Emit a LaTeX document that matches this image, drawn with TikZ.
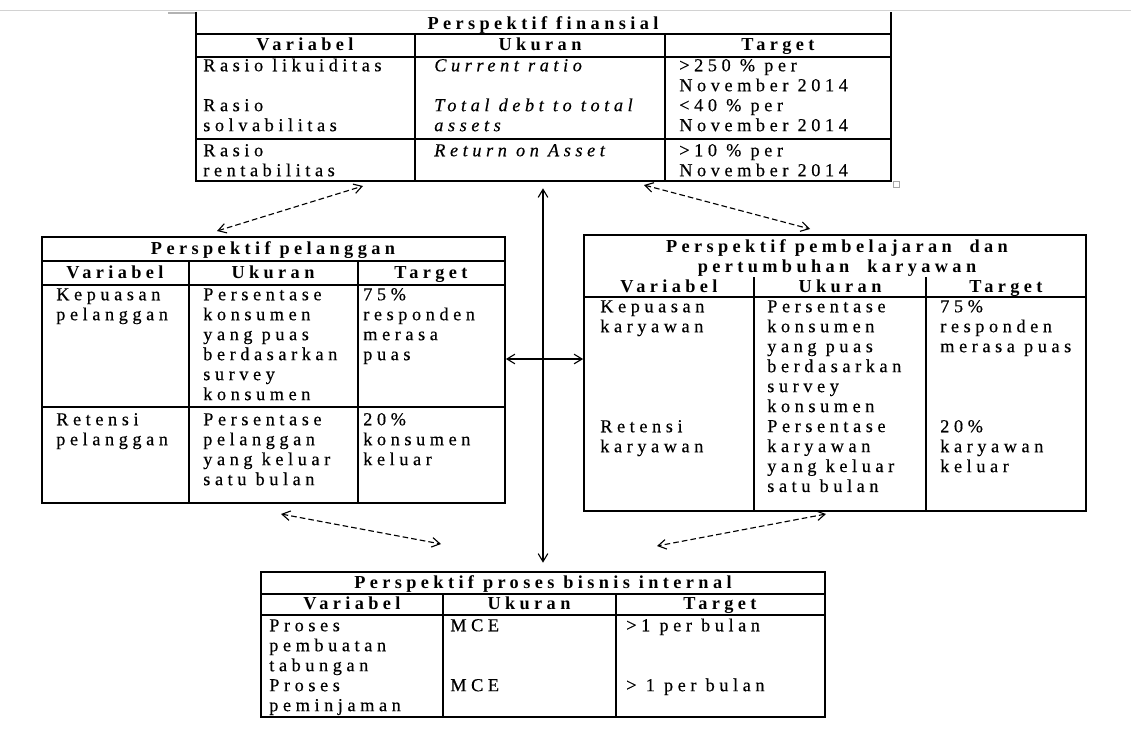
\documentclass[tikz,border=0pt]{standalone}
\usepackage{fontspec}
\setmainfont{Liberation Serif}
\newfontfamily\cellfont[LetterSpace=25, FakeBold=0.4]{Liberation Serif}
\newfontfamily\headfont[LetterSpace=24]{Liberation Serif}
\newcommand\celltext{\cellfont\fontsize{13}{14.2}\selectfont}
\newcommand\headtext{\headfont\bfseries\fontsize{13}{14.2}\selectfont}
\usetikzlibrary{arrows.meta,fit}

\tikzset{
  tblframe/.style={draw, line width=1.2pt, inner sep=0pt},
  rule/.style={line width=1.2pt},
  cell/.style={anchor=north west, inner sep=0pt, align=left, font=\celltext},
  hdr/.style={anchor=base, inner sep=0pt, font=\headtext},
  spine/.style={line width=0.8pt, {Straight Barb[length=2mm,width=2.4mm]}-{Straight Barb[length=2mm,width=2.4mm]}},
  link/.style={line width=0.8pt, dash pattern=on 4pt off 2.2pt, {Straight Barb[length=2mm,width=2.4mm]}-{Straight Barb[length=2mm,width=2.4mm]}}
}

\begin{document}
\begin{tikzpicture}[x=0.025cm, y=-0.025cm]
	\useasboundingbox (0,0) rectangle (1131,731);
	\draw[gray!35, line width=0.7pt] (0,10) -- (1131,10);
	\draw[gray!60, line width=1pt] (168,13) -- (195,13);
	\draw[gray!70, line width=0.5pt] (893,181) rectangle (899,187);

	\node[fit={(196,12) (891,181)}, inner sep=0pt] (fin) {};
	\draw[rule] (fin.north west) -- (fin.south west) -- (fin.south east) -- (fin.north east);
	\draw[rule] (196,34) -- (891,34);
	\draw[rule] (196,57) -- (891,57);
	\draw[rule] (196,139) -- (891,139);
	\draw[rule] (415,34) -- (415,181);
	\draw[rule] (665,34) -- (665,181);
	\node[hdr] (finT) at (543,29) {Perspektif finansial};
	\node[hdr] (finV) at (305,50) {Variabel};
	\node[hdr] (finU) at (540,50) {Ukuran};
	\node[hdr] (finG) at (778,50) {Target};
	\node[cell] (finV1) at (203,57) {\strut Rasio likuiditas\\[14.2pt]Rasio\\solvabilitas};
	\node[cell] (finU1) at (434,57) {\strut\itshape Current ratio\\[14.2pt]\itshape Total debt to total\\\itshape assets};
	\node[cell] (finG1) at (679,57) {\strut >250 \% per\\November 2014\\<40 \% per\\November 2014};
	\node[cell] (finV2) at (203,142) {\strut Rasio\\rentabilitas};
	\node[cell] (finU2) at (434,142) {\strut\itshape Return on Asset};
	\node[cell] (finG2) at (679,142) {\strut >10 \% per\\November 2014};

	\node[tblframe, fit={(42,237) (505,503)}] (pel) {};
	\draw[rule] (42,261) -- (505,261);
	\draw[rule] (42,285) -- (505,285);
	\draw[rule] (42,407) -- (505,407);
	\draw[rule] (189,261) -- (189,503);
	\draw[rule] (358,261) -- (358,503);
	\node[hdr] (pelT) at (273,254) {Perspektif pelanggan};
	\node[hdr] (pelV) at (115,278) {Variabel};
	\node[hdr] (pelU) at (273,278) {Ukuran};
	\node[hdr] (pelG) at (431,278) {Target};
	\node[cell] (pelV1) at (56,286) {\strut Kepuasan\\pelanggan};
	\node[cell] (pelU1) at (203,286) {\strut Persentase\\konsumen\\yang puas\\berdasarkan\\survey\\konsumen};
	\node[cell] (pelG1) at (363,286) {\strut 75\%\\responden\\merasa\\puas};
	\node[cell] (pelV2) at (56,411) {\strut Retensi\\pelanggan};
	\node[cell] (pelU2) at (203,411) {\strut Persentase\\pelanggan\\yang keluar\\satu bulan};
	\node[cell] (pelG2) at (363,411) {\strut 20\%\\konsumen\\keluar};

	\node[tblframe, fit={(584,235) (1086,511)}] (pem) {};
	\draw[rule] (584,297) -- (1086,297);
	\draw[rule] (754,277) -- (754,511);
	\draw[rule] (926,277) -- (926,511);
	\node[hdr, anchor=north, align=center] (pemT) at (837,238) {\strut Perspektif pembelajaran~~dan\\pertumbuhan~~karyawan};
	\node[hdr] (pemV) at (669,292) {Variabel};
	\node[hdr] (pemU) at (840,292) {Ukuran};
	\node[hdr] (pemG) at (1006,292) {Target};
	\node[cell] (pemV1) at (600,298) {\strut Kepuasan\\karyawan};
	\node[cell] (pemU1) at (767,298) {\strut Persentase\\konsumen\\yang puas\\berdasarkan\\survey\\konsumen\\Persentase\\karyawan\\yang keluar\\satu bulan};
	\node[cell] (pemG1) at (940,298) {\strut 75\%\\responden\\merasa puas};
	\node[cell] (pemV2) at (600,418) {\strut Retensi\\karyawan};
	\node[cell] (pemG2) at (940,418) {\strut 20\%\\karyawan\\keluar};

	\node[tblframe, fit={(261,572) (825,717)}] (pro) {};
	\draw[rule] (261,594) -- (825,594);
	\draw[rule] (261,615) -- (825,615);
	\draw[rule] (443,594) -- (443,717);
	\draw[rule] (616,594) -- (616,717);
	\node[hdr] (proT) at (543,588) {Perspektif proses bisnis internal};
	\node[hdr] (proV) at (352,609) {Variabel};
	\node[hdr] (proU) at (529,609) {Ukuran};
	\node[hdr] (proG) at (720,609) {Target};
	\node[cell] (proV1) at (269,617) {\strut Proses\\pembuatan\\tabungan\\Proses\\peminjaman};
	\node[cell] (proU1) at (450,617) {\strut MCE\\[28.4pt]MCE};
	\node[cell] (proG1) at (626,617) {\strut >1 per bulan\\[28.4pt]> 1 per bulan};

	\coordinate (mid) at (543,359);
	\draw[spine, shorten <=5pt, shorten >=6pt] (fin.south -| mid) -- (pro.north -| mid);
	\draw[spine] (pel.east |- mid) -- (pem.west |- mid);

	\coordinate (l1) at (217,231);
	\coordinate (l2) at (363,186);
	\coordinate (r1) at (644,185);
	\coordinate (r2) at (810,229);
	\coordinate (b1) at (281,514);
	\coordinate (b2) at (441,544);
	\coordinate (c1) at (826,514);
	\coordinate (c2) at (657,546);
	\draw[link] (l1) -- (l2);
	\draw[link] (r1) -- (r2);
	\draw[link] (b1) -- (b2);
	\draw[link] (c1) -- (c2);
\end{tikzpicture}
\end{document}
